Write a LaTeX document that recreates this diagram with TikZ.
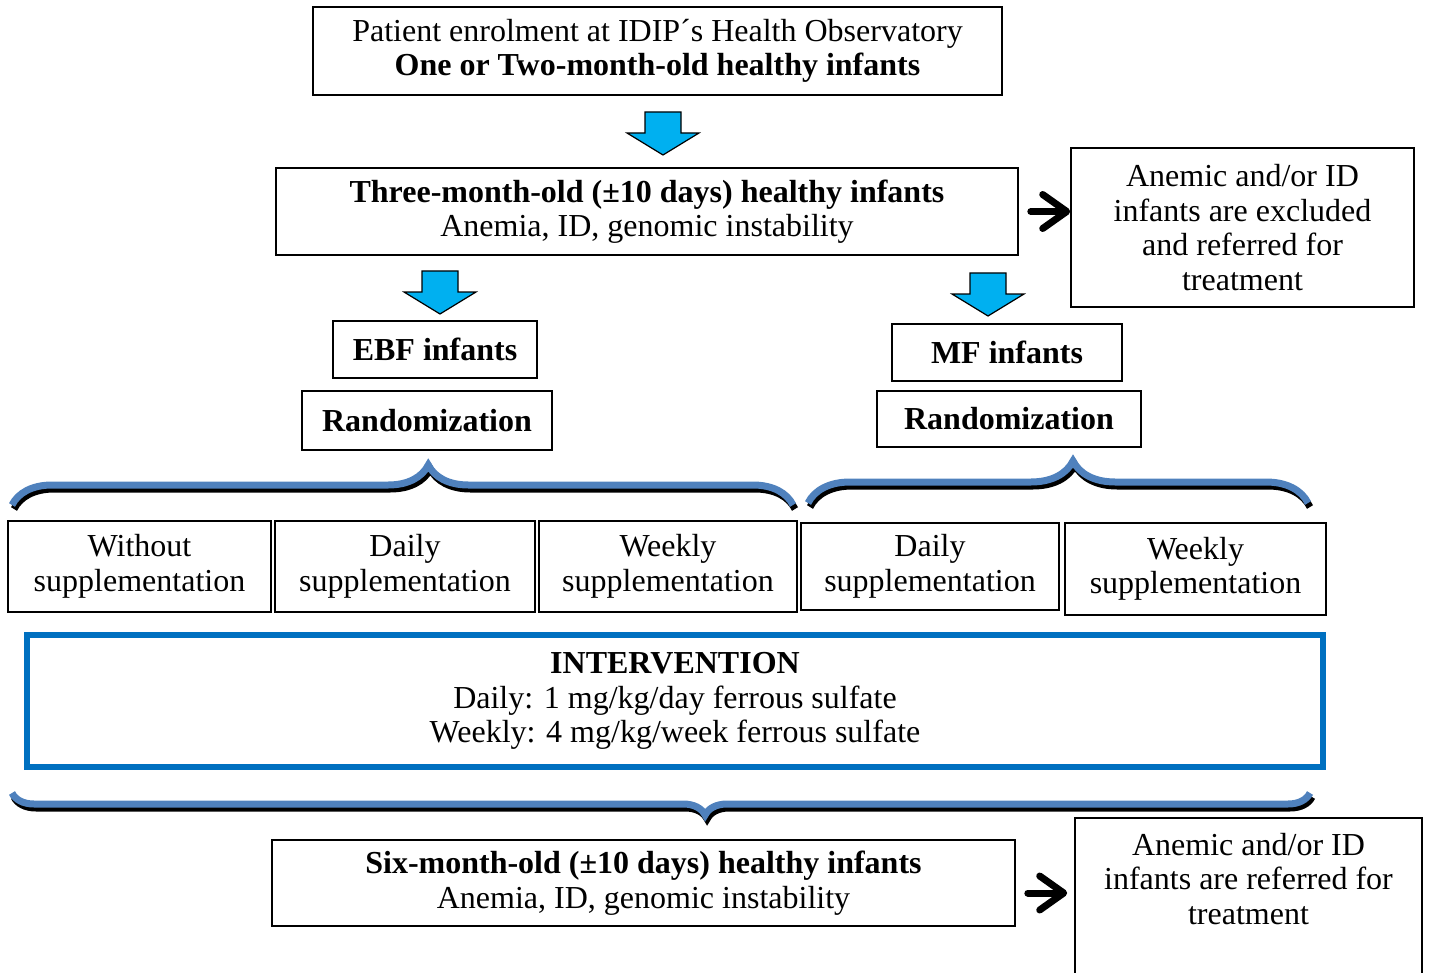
\documentclass[tikz,border=0pt]{standalone}
\usepackage{fontspec}
\setmainfont{Liberation Serif}
\usepackage{xcolor}
\usepackage{tikz}
\usetikzlibrary{arrows.meta, positioning, calc, decorations.pathreplacing}

\definecolor{arrowblue}{HTML}{00B0F0}
\definecolor{intblue}{HTML}{0070C0}
\definecolor{braceblue}{HTML}{4F81BD}

\begin{document}
\begin{tikzpicture}[
    x=0.5pt, y=-0.5pt,
    every node/.style={font=\fontsize{16}{17.25}\selectfont, align=center},
    box/.style={draw, line width=0.8pt, inner sep=0pt},
    suppbox/.style={box, minimum width=129pt, minimum height=45.5pt},
    blackarr/.style={line width=3.5pt, line cap=round, -{Straight Barb[round, length=12pt, width=17pt]}},
    brc/.style={decorate, decoration={brace}, line width=3.5pt},
    downarr/.pic={\draw[fill=arrowblue, line width=0.6pt] (-18,0) -- (18,0) -- (18,21) -- (36,21)
      -- (0,43) -- (-36,21) -- (-18,21) -- cycle;}
  ]
  \useasboundingbox (0,0) rectangle (1429,973);
  \clip (0,0) rectangle (1429,973);

  % top part
  \node[box, minimum width=344.5pt, minimum height=44pt] (enrol) at (657.5,51)
    {Patient enrolment at IDIP´s Health Observatory\\\textbf{One or Two-month-old healthy infants}};
  \node[box, minimum width=371pt, minimum height=43.5pt] (three) at (647,211.5)
    {\textbf{Three-month-old (±10 days) healthy infants}\\Anemia, ID, genomic instability};
  \node[box, minimum width=171.5pt, minimum height=79.5pt] (excl) at (1242.5,227.5)
    {Anemic and/or ID\\infants are excluded\\and referred for\\treatment};

  \pic at (663,112) {downarr};
  \pic at (440,271) {downarr};
  \pic at (988,273) {downarr};

  \draw[blackarr, shorten <=6pt] (three.east) -- (three.east -| excl.west);

  % groups
  \node[box, minimum width=102pt, minimum height=28.5pt] (ebf) at (435,349.5) {\textbf{EBF infants}};
  \node[box, minimum width=125pt, minimum height=29.5pt] (randl) at (427,420.5) {\textbf{Randomization}};
  \node[box, minimum width=115pt, minimum height=28.5pt] (mf) at (1007,352.5) {\textbf{MF infants}};
  \node[box, minimum width=132pt, minimum height=28pt] (randr) at (1009,419) {\textbf{Randomization}};

  % braces with shadow
  \foreach \c/\s in {black/2, braceblue/0} {
    \draw[brc, \c, shift={(\s,2*\s)}, decoration={amplitude=20pt, aspect=0.533}] (12,505) -- (793,505);
    \draw[brc, \c, shift={(\s,2*\s)}, decoration={amplitude=21pt, aspect=0.53}] (808,503) -- (1308,503);
    \draw[brc, \c, shift={(\s,2*\s)}, decoration={amplitude=11pt, aspect=0.466}] (1310,793) -- (12,793);
  }

  % arms
  \node[suppbox, minimum width=131.5pt] (without) at (139.5,566.5) {Without\\supplementation};
  \node[suppbox, minimum width=130pt] (dailyl) at (405,566.5) {Daily\\supplementation};
  \node[suppbox] (weeklyl) at (668,566.5) {Weekly\\supplementation};
  \node[suppbox, minimum height=43.5pt] (dailyr) at (930,566.5) {Daily\\supplementation};
  \node[suppbox, minimum width=130.5pt, minimum height=46pt] (weeklyr) at (1195.5,569) {Weekly\\supplementation};

  \node[draw=intblue, line width=3pt, minimum width=648pt, minimum height=66pt, inner sep=0pt] (interv) at (675,701)
    {\textbf{INTERVENTION}\\Daily: 1 mg/kg/day ferrous sulfate\\Weekly: 4 mg/kg/week ferrous sulfate};

  % bottom part
  \node[box, minimum width=371.5pt, minimum height=43pt] (six) at (643.5,883)
    {\textbf{Six-month-old (±10 days) healthy infants}\\Anemia, ID, genomic instability};
  \node[box, anchor=north, minimum width=173.5pt, inner ysep=7.5pt, text depth=70pt] (refer) at (1248.5,817)
    {Anemic and/or ID\\infants are referred for\\treatment};

  \draw[blackarr, shorten <=6pt, shorten >=3.5pt] ($(six.east)+(0,10)$) -- ($(six.east -| refer.west)+(0,10)$);
\end{tikzpicture}
\end{document}
